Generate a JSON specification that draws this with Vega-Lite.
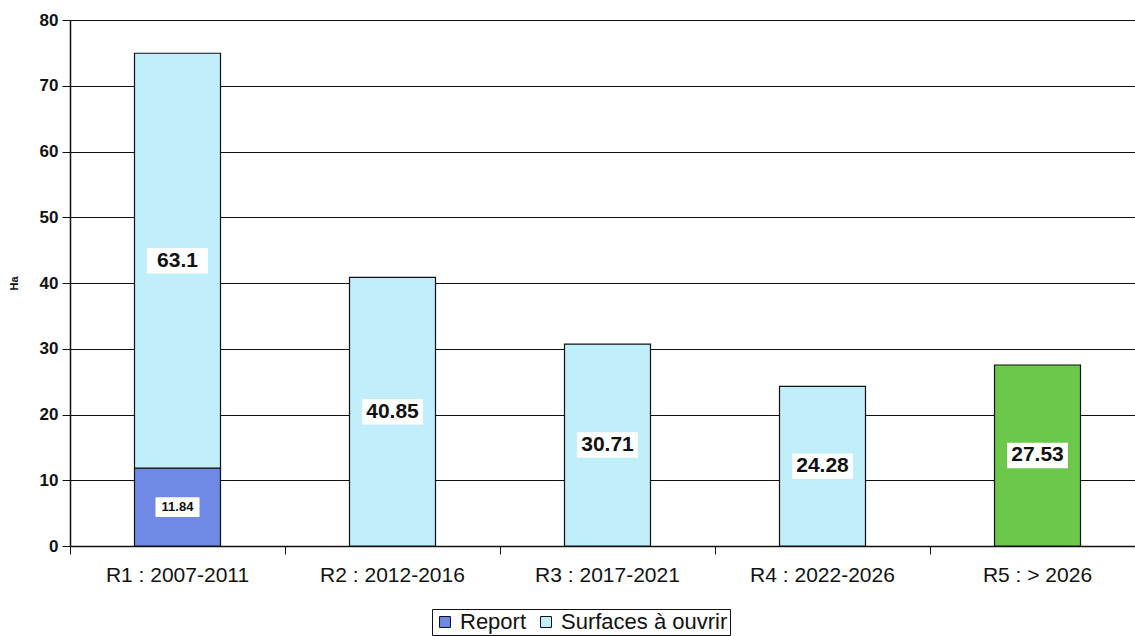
{
  "$schema": "https://vega.github.io/schema/vega-lite/v6.json",
  "width": 1075,
  "height": 526,
  "autosize": {"type": "none"},
  "padding": {"left": 70, "top": 20, "right": 0, "bottom": 90},
  "background": "white",
  "config": {"view": {"stroke": null}, "font": "Liberation Sans",
    "axisY": {"titleFontSize": 11, "titleFontWeight": "bold", "titleColor": "#111", "titlePadding": 20,
              "labelFontSize": 17, "labelFontWeight": "bold", "labelColor": "#111",
              "grid": true, "gridColor": "#111", "gridWidth": 1.2, "gridOpacity": 1,
              "domainColor": "#111", "domainWidth": 1.5, "tickColor": "#111", "tickSize": 8, "labelPadding": 4}},
  "data": {
    "values": [
      {"periode": "R1 : 2007-2011", "serie": "Report", "groupe": "Report", "ha": 11.84, "rang": 1},
      {"periode": "R1 : 2007-2011", "serie": "Surfaces à ouvrir", "groupe": "Surfaces à ouvrir", "ha": 63.1, "rang": 2},
      {"periode": "R2 : 2012-2016", "serie": "Surfaces à ouvrir", "groupe": "Surfaces à ouvrir", "ha": 40.85, "rang": 2},
      {"periode": "R3 : 2017-2021", "serie": "Surfaces à ouvrir", "groupe": "Surfaces à ouvrir", "ha": 30.71, "rang": 2},
      {"periode": "R4 : 2022-2026", "serie": "Surfaces à ouvrir", "groupe": "Surfaces à ouvrir", "ha": 24.28, "rang": 2},
      {"periode": "R5 : > 2026", "serie": "Surfaces à ouvrir", "groupe": "R5", "ha": 27.53, "rang": 2}
    ]
  },
  "transform": [
    {"stack": "ha", "groupby": ["periode"], "sort": [{"field": "rang", "order": "ascending"}], "as": ["y0", "y1"]},
    {"calculate": "(datum.y0 + datum.y1) / 2", "as": "ymid"}
  ],
  "resolve": {"axis": {"x": "independent"}},
  "layer": [
    {
      "mark": {"type": "bar", "width": {"band": 0.4}, "stroke": "#111", "strokeWidth": 1.2},
      "encoding": {
        "x": {"field": "periode", "type": "nominal", "sort": null,
              "scale": {"paddingInner": 0, "paddingOuter": 0},
              "axis": {"orient": "bottom", "title": null, "labelAngle": 0, "labelFontSize": 21, "labelColor": "#111",
                       "ticks": false, "domain": false, "labelPadding": 18, "grid": false}},
        "y": {"field": "y0", "type": "quantitative",
              "scale": {"domain": [0, 80], "nice": false, "zero": true},
              "axis": {"title": "Ha", "values": [0, 10, 20, 30, 40, 50, 60, 70, 80]}},
        "y2": {"field": "y1"},
        "color": {"field": "groupe", "type": "nominal",
                  "scale": {"domain": ["Report", "Surfaces à ouvrir", "R5"], "range": ["#7089e4", "#c0eefb", "#6cc84b"]},
                  "legend": {"values": ["Report", "Surfaces à ouvrir"], "orient": "none", "legendX": 362, "legendY": 589,
                             "direction": "horizontal", "title": null, "symbolType": "square", "symbolSize": 120,
                             "symbolStrokeColor": "#111", "symbolStrokeWidth": 1, "symbolOpacity": 1,
                             "labelFontSize": 22, "labelColor": "#111", "labelLimit": 400, "strokeColor": "#111", "padding": 2,
                             "columnPadding": 8, "symbolOffset": 0, "labelOffset": 4}}
      }
    },
    {
      "transform": [{"filter": "datum.serie !== 'Report'"}],
      "mark": {"type": "point", "shape": "M-1,-0.42H1V0.42H-1Z", "size": 3700, "filled": true, "fill": "white", "opacity": 1, "strokeWidth": 0},
      "encoding": {
        "x": {"field": "periode", "type": "nominal", "sort": null,
              "axis": {"orient": "bottom", "title": null, "labels": false, "ticks": true, "bandPosition": 0,
                       "tickColor": "#111", "tickSize": 8, "domainColor": "#111", "domainWidth": 1.5, "grid": false}},
        "y": {"field": "ymid", "type": "quantitative", "axis": {"title": "Ha", "values": [0, 10, 20, 30, 40, 50, 60, 70, 80]}}
      }
    },
    {
      "transform": [{"filter": "datum.serie === 'Report'"}],
      "mark": {"type": "point", "shape": "M-1,-0.45H1V0.45H-1Z", "size": 1936, "filled": true, "fill": "white", "opacity": 1, "strokeWidth": 0},
      "encoding": {
        "x": {"field": "periode", "type": "nominal", "sort": null, "axis": null},
        "y": {"field": "ymid", "type": "quantitative", "axis": {"title": "Ha", "values": [0, 10, 20, 30, 40, 50, 60, 70, 80]}}
      }
    },
    {
      "mark": {"type": "text", "fontWeight": "bold", "color": "#111", "baseline": "middle", "align": "center"},
      "encoding": {
        "x": {"field": "periode", "type": "nominal", "sort": null, "axis": null},
        "y": {"field": "ymid", "type": "quantitative", "axis": {"title": "Ha", "values": [0, 10, 20, 30, 40, 50, 60, 70, 80]}},
        "text": {"field": "ha", "type": "quantitative"},
        "size": {"condition": {"test": "datum.serie === 'Report'", "value": 13}, "value": 21}
      }
    }
  ]
}
